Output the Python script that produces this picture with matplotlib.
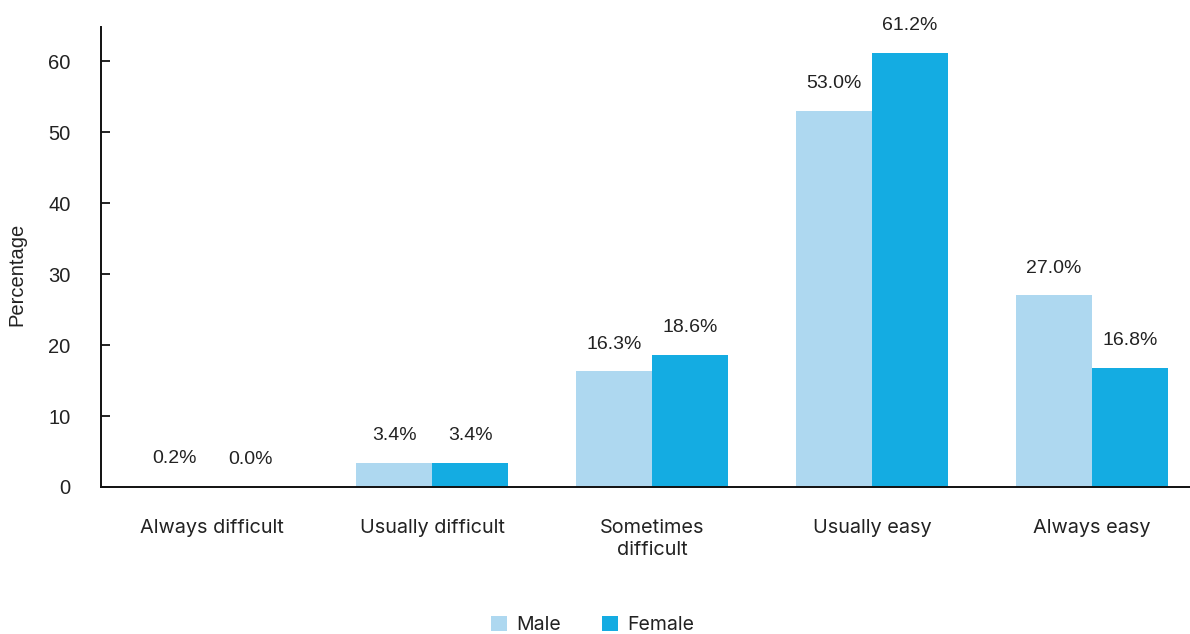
import matplotlib
matplotlib.use("Agg")
import matplotlib.pyplot as plt
import numpy as np
from matplotlib.patches import Patch

categories = ["Always difficult", "Usually difficult", "Sometimes\ndifficult",
              "Usually easy", "Always easy"]
male = [0.2, 3.4, 16.3, 53.0, 27.0]
female = [0.0, 3.4, 18.6, 61.2, 16.8]
series_names = ["Male", "Female"]
yticks = [0, 10, 20, 30, 40, 50, 60]

male_color = "#AED8F0"
female_color = "#14ACE2"
text_color = "#222222"
num_font = "Liberation Sans"
cat_font = "Inter"

fig = plt.figure(figsize=(11.9, 6.34), dpi=100)
ax = fig.add_axes([101 / 1190, (634 - 487) / 634, (1190 - 101) / 1190, (487 - 27) / 634])

x = np.arange(len(categories))
w = 0.345
bars_m = ax.bar(x - w / 2, male, width=w, color=male_color, edgecolor="none")
bars_f = ax.bar(x + w / 2, female, width=w, color=female_color, edgecolor="none")

for bars, vals in ((bars_m, male), (bars_f, female)):
    for b, v in zip(bars, vals):
        ax.annotate(f"{v:.1f}%", (b.get_x() + b.get_width() / 2, v),
                    xytext=(0, 19.5), textcoords="offset points",
                    ha="center", va="center", fontsize=14,
                    family=num_font, color=text_color)

ax.set_xlim(-0.505, 4.445)
ax.set_ylim(0, 64.8)
ax.set_yticks(yticks)
ax.set_yticklabels([str(t) for t in yticks], family=num_font, fontsize=14.5, color=text_color)
ax.tick_params(axis="y", direction="in", length=6.5, width=1.3, pad=22, color="#111111")
ax.tick_params(axis="x", length=0, pad=23)
ax.set_xticks(x)
ax.set_xticklabels(categories, family=cat_font, fontsize=14.3, color=text_color,
                   linespacing=1.32)
for t in ax.get_xticklabels():
    t.set_va("top")

ax.set_ylabel("Percentage", family=num_font, fontsize=14.5, color=text_color)
ax.yaxis.set_label_coords(-75 / 1089, (487 - 274) / 460)

for s in ("top", "right"):
    ax.spines[s].set_visible(False)
ax.spines["left"].set_linewidth(1.4)
ax.spines["bottom"].set_linewidth(1.4)
ax.spines["left"].set_color("#111111")
ax.spines["bottom"].set_color("#111111")

handles = [Patch(facecolor=male_color), Patch(facecolor=female_color)]
leg = fig.legend(handles, series_names, loc="center", bbox_to_anchor=(593 / 1190, 1 - 625 / 634),
                 ncol=2, frameon=False, handlelength=0.8, handleheight=0.85,
                 handletextpad=0.5, columnspacing=2.1,
                 prop={"family": cat_font, "size": 14})
for t in leg.get_texts():
    t.set_color(text_color)

fig.savefig("out.png", dpi=100)
